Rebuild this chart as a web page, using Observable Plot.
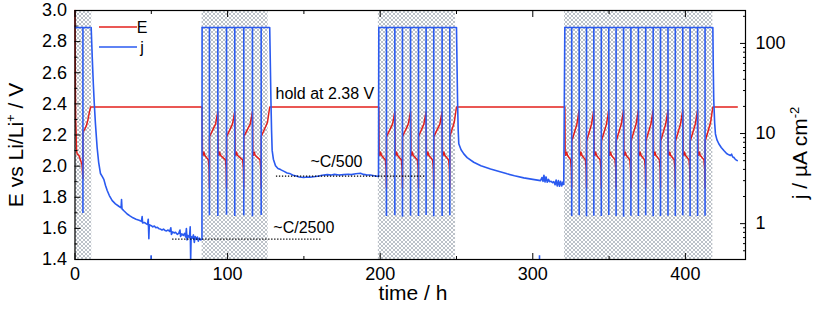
<!DOCTYPE html>
<html><head><meta charset="utf-8">
<script src="https://cdn.jsdelivr.net/npm/d3@7"></script>
<script src="https://cdn.jsdelivr.net/npm/@observablehq/plot@0.6"></script>
<style>
html,body{margin:0;padding:0;background:#fff;}
#chart{position:relative;width:813px;height:311px;}
#chart svg{position:absolute;left:0;top:0;}
</style></head><body><div id="chart"></div>
<script>
// ---------- data ----------
const xDomain = [0, 439.4];
const eDomain = [1.4, 3.0];
const jDomain = [0.4, 232];

const eTicksMajor = [1.4, 1.6, 1.8, 2.0, 2.2, 2.4, 2.6, 2.8, 3.0];
const eTicksMinor = [1.5, 1.7, 1.9, 2.1, 2.3, 2.5, 2.7, 2.9];
const xTicksMajor = [0, 100, 200, 300, 400];
const xTicksMinor = [50, 150, 250, 350];
const jTicksMajor = [1, 10, 100];
const jTicksMinor = [0.4, 0.5, 0.6, 0.7, 0.8, 0.9, 2, 3, 4, 5, 6, 7, 8, 9, 20, 30, 40, 50, 60, 70, 80, 90, 200];

// galvanostatic cycling periods (hatched)
const cycStart = [0, 83.3, 199.1, 321.0];
const cycEnd   = [10.6, 127.6, 250.0, 418.0];
const hatchStart = [0, 83.3, 198.8, 320.8];
const hatchEnd   = [11.0, 126.6, 249.4, 418.0];
const cycleJ = 150;

// current switches during cycling (|j| dips)
const spikeTimes = [5.2,
  88.1, 93.6, 99.3, 104.7, 110.6, 116.3, 122.0,
  204.1, 209.6, 214.6, 219.9, 225.1, 230.1, 235.1, 240.6, 245.6,
  325.5, 330.4, 335.2, 340.0, 344.9, 349.8, 354.6, 359.5, 364.3, 369.2, 374.0, 378.9, 383.7, 388.6, 393.4, 398.3, 403.1, 408.0, 412.9];
const spikeMins = [1.3,
  1.22, 1.2, 1.24, 1.2, 1.22, 1.19, 1.23,
  1.2, 1.22, 1.18, 1.21, 1.2, 1.23, 1.19, 1.2, 1.22,
  1.2, 1.22, 1.19, 1.21, 1.2, 1.23, 1.2, 1.18, 1.21, 1.2, 1.22, 1.19, 1.2, 1.21, 1.2, 1.22, 1.19, 1.2, 1.21];

// potential E (V) : [time h, E]
const ePoints = [
  [0,3.0],[0.25,2.5],[0.4,2.3],[0.7,2.22],[1.0,2.1],[1.5,2.075],[2.5,2.07],[3.6,2.04],[4.6,2.01],[5.2,1.92],
  [5.25,2.22],[6.5,2.24],[7.5,2.26],[8.5,2.3],[9.3,2.34],[10.2,2.38],[83.3,2.38],
  [83.5,2.09],[83.9,2.07],[84.5,2.09],[85.0,2.07],[87.4,2.04],[87.9,1.98],[88.1,1.86],[88.15,2.19],[92.1,2.27],[93.6,2.35],
  [93.8,2.09],[94.2,2.07],[94.8,2.09],[95.3,2.07],[98.6,2.04],[99.1,1.98],[99.3,1.86],[99.35,2.19],[103.2,2.27],[104.7,2.35],
  [104.9,2.09],[105.3,2.07],[105.9,2.09],[106.4,2.07],[109.9,2.04],[110.4,1.98],[110.6,1.86],[110.65,2.19],[114.8,2.27],[116.3,2.35],
  [116.5,2.09],[116.9,2.07],[117.5,2.09],[118.0,2.07],[121.3,2.04],[121.8,1.98],[122.0,1.86],[122.05,2.19],[126.1,2.28],[127.6,2.38],
  [199.1,2.38],
  [199.3,2.09],[199.7,2.07],[200.3,2.09],[200.8,2.07],[203.4,2.04],[203.9,1.98],[204.1,1.86],[204.15,2.19],[208.1,2.27],[209.6,2.35],
  [209.8,2.09],[210.2,2.07],[210.8,2.09],[211.3,2.07],[213.9,2.04],[214.4,1.98],[214.6,1.86],[214.65,2.19],[218.4,2.27],[219.9,2.35],
  [220.1,2.09],[220.5,2.07],[221.1,2.09],[221.6,2.07],[224.4,2.04],[224.9,1.98],[225.1,1.86],[225.15,2.19],[228.6,2.27],[230.1,2.35],
  [230.3,2.09],[230.7,2.07],[231.3,2.09],[231.8,2.07],[234.4,2.04],[234.9,1.98],[235.1,1.86],[235.15,2.19],[239.1,2.27],[240.6,2.35],
  [240.8,2.09],[241.2,2.07],[241.8,2.09],[242.3,2.07],[244.9,2.04],[245.4,1.98],[245.6,1.86],[245.65,2.19],[248.5,2.28],[250.0,2.38],
  [321.0,2.38],
  [321.2,2.09],[321.6,2.07],[322.2,2.09],[322.7,2.07],[324.8,2.04],[325.3,1.98],[325.5,1.86],[325.55,2.16],[328.9,2.27],[330.4,2.36],
  [330.6,2.09],[331.0,2.07],[331.6,2.09],[332.1,2.07],[334.5,2.04],[335.0,1.98],[335.2,1.86],[335.25,2.16],[338.5,2.27],[340.0,2.36],
  [340.2,2.09],[340.6,2.07],[341.2,2.09],[341.7,2.07],[344.2,2.04],[344.7,1.98],[344.9,1.86],[344.95,2.16],[348.3,2.27],[349.8,2.36],
  [350.0,2.09],[350.4,2.07],[351.0,2.09],[351.5,2.07],[353.9,2.04],[354.4,1.98],[354.6,1.86],[354.65,2.16],[358.0,2.27],[359.5,2.36],
  [359.7,2.09],[360.1,2.07],[360.7,2.09],[361.2,2.07],[363.6,2.04],[364.1,1.98],[364.3,1.86],[364.35,2.16],[367.7,2.27],[369.2,2.36],
  [369.4,2.09],[369.8,2.07],[370.4,2.09],[370.9,2.07],[373.3,2.04],[373.8,1.98],[374.0,1.86],[374.05,2.16],[377.4,2.27],[378.9,2.36],
  [379.1,2.09],[379.5,2.07],[380.1,2.09],[380.6,2.07],[383.0,2.04],[383.5,1.98],[383.7,1.86],[383.75,2.16],[387.1,2.27],[388.6,2.36],
  [388.8,2.09],[389.2,2.07],[389.8,2.09],[390.3,2.07],[392.7,2.04],[393.2,1.98],[393.4,1.86],[393.45,2.16],[396.8,2.27],[398.3,2.36],
  [398.5,2.09],[398.9,2.07],[399.5,2.09],[400.0,2.07],[402.4,2.04],[402.9,1.98],[403.1,1.86],[403.15,2.16],[406.5,2.27],[408.0,2.36],
  [408.2,2.09],[408.6,2.07],[409.2,2.09],[409.7,2.07],[412.2,2.04],[412.7,1.98],[412.9,1.86],[412.95,2.16],[416.5,2.28],[418.0,2.38],
  [434.0,2.38]
];

// current density j (µA cm-2) during potentiostatic holds : [time h, j]
const jHold1 = [
  [10.6,150],[11.3,70],[12.0,36],[12.6,22],[13.4,12.8],[14.5,7.0],[15.5,4.8],[16.7,3.6],[18.0,3.3],[18.9,3.1],
  [20.0,2.65],[21.1,2.33],[22.5,2.05],[24.4,1.8],[26.5,1.66],[28.7,1.56],[30.2,1.5],[30.5,1.85],[30.8,1.46],
  [32.2,1.38],[34.2,1.28],[36,1.22],[38,1.16],[40,1.12],[42,1.09],[43.5,1.06],[44.0,1.2],[44.3,1.02],[45.5,1.03],
  [46.5,1.0],[47.5,0.98],[48.0,1.12],[48.4,0.68],[48.7,0.97],[50,0.95],[51,0.92],[52,0.94],[53,0.9],[54,0.91],
  [55,0.88],[56,0.87],[57,0.85],[58,0.87],[59,0.84],[60,0.83],[61,0.85],[62,0.82],[62.8,0.9],[63.2,0.76],[64,0.81],
  [65,0.79],[66,0.8],[67,0.76],[68,0.78],[68.8,0.85],[69.2,0.72],[70,0.77],[71,0.74],[71.8,0.78],[72.5,0.71],
  [73,0.88],[73.4,0.66],[74,0.74],[75,0.7],[75.5,0.92],[75.8,0.4],[76.1,0.72],[77,0.69],[77.6,0.75],[78.2,0.62],
  [78.8,0.72],[79.5,0.67],[80.2,0.71],[80.8,0.64],[81.5,0.69],[82.3,0.66],[83.2,0.67],[83.3,150]
];
const jHold2 = [
  [127.6,150],[128.0,60],[128.4,23.3],[128.8,11],[129.2,6.5],[130.0,5.2],[131.4,4.4],[133,4.1],[134.7,3.98],
  [137,3.8],[139,3.65],[141.2,3.57],[143,3.45],[145,3.38],[147,3.3],[149.9,3.25],[152,3.3],[154,3.27],[157.6,3.33],
  [160,3.38],[162,3.45],[165.3,3.5],[168,3.47],[170,3.52],[173,3.46],[176.1,3.5],[179,3.54],[181,3.5],[184,3.58],
  [187.1,3.62],[189,3.52],[191,3.48],[193.6,3.46],[196,3.4],[198.9,3.33],[199.1,150]
];
const jHold3 = [
  [250.0,150],[250.4,50],[250.7,23],[251.1,11],[251.5,7.7],[253,6.6],[254.8,5.95],[257,5.4],[261.3,4.8],[266,4.4],
  [272.3,4.05],[278,3.8],[283.2,3.57],[288,3.4],[294.1,3.22],[300,3.1],[305.1,3.0],[306,3.25],[306.7,2.95],
  [307.3,3.45],[308,2.9],[308.7,3.3],[309.5,2.88],[310.3,3.1],[311,2.92],[312,2.95],[313,2.85],[313.8,2.92],
  [314.6,2.7],[315.3,3.05],[316,2.62],[316.8,3.0],[317.5,2.6],[318.2,2.95],[319,2.62],[319.7,2.9],[320.3,2.72],[321.0,150]
];
const jHold4 = [
  [418.0,150],[418.3,50],[418.6,23.3],[419.2,13],[419.7,9.9],[420.7,8.5],[421.9,7.7],[423.5,7.0],[425.2,6.47],
  [427,6.0],[428.5,5.8],[429.5,5.7],[430.3,5.9],[431,5.5],[431.7,5.45],[432.4,5.25],[433.2,5.1],[434.0,5.0]
];
const jOutlierT = [49.9, 304.4];
const jOutlierTop = [0.44, 0.44];

// reference rates (dotted)
const rateLabels = ["~C/2500", "~C/500"];
const rateJ = [0.672, 3.36];
const rateStart = [64, 132];
const rateEnd = [162, 229.7];
const rateLabelT = [130, 154.3];
const rateLabelJ = [0.903, 4.8];

const holdLabel = "hold at 2.38 V";
const holdLabelT = 131.4, holdLabelE = 2.465;

// ---------- layout ----------
const W = 813, H = 311;
const M = {top: 10, right: 68, bottom: 52, left: 74.5};
const FONT = "'Liberation Sans', Arial, Helvetica, sans-serif";
const RED = "#e3211c", BLUE = "#2a5af0";
const common = {
  width: W, height: H,
  marginTop: M.top, marginRight: M.right, marginBottom: M.bottom, marginLeft: M.left,
  style: {fontFamily: FONT, fontSize: "18px", color: "#000", background: "none", overflow: "visible"}
};

const hatch = hatchStart.map((s, i) => ({start: s, end: hatchEnd[i]}));
const cyc = cycStart.map((s, i) => ({start: s, end: cycEnd[i]}));
const rates = rateJ.map((j, i) => ({j, start: rateStart[i], end: rateEnd[i], label: rateLabels[i], lt: rateLabelT[i], lj: rateLabelJ[i]}));

const p1 = Plot.plot({
  ...common,
  x: {domain: xDomain},
  y: {domain: eDomain},
  marks: [
    Plot.rect(hatch, {x1: "start", x2: "end", fill: "url(#xhatch)"}),
    Plot.line(ePoints, {x: d => d[0], y: d => d[1], stroke: RED, strokeWidth: 1.5}),
    Plot.text([holdLabel], {x: () => holdLabelT, y: () => holdLabelE, text: d => d, textAnchor: "start", fontSize: 16, fill: "#000"}),
    Plot.axisY({ticks: eTicksMajor, tickSize: -6, tickPadding: 14, tickFormat: d => d.toFixed(1), label: null, fontSize: 18}),
    Plot.axisY({ticks: eTicksMinor, tickSize: -3, tickFormat: () => "", label: null}),
    Plot.axisX({ticks: xTicksMajor, tickSize: -6, tickPadding: 14, tickFormat: d => String(d), label: null, fontSize: 18}),
    Plot.axisX({ticks: xTicksMinor, tickSize: -3, tickFormat: () => "", label: null}),
    Plot.axisX({anchor: "top", ticks: xTicksMajor, tickSize: -6, tickFormat: () => "", label: null}),
    Plot.axisX({anchor: "top", ticks: xTicksMinor, tickSize: -3, tickFormat: () => "", label: null})
  ]
});

const p2 = Plot.plot({
  ...common,
  x: {domain: xDomain, axis: null},
  y: {type: "log", domain: jDomain},
  marks: [
    Plot.ruleY(cyc, {y: () => cycleJ, x1: "start", x2: "end", stroke: BLUE, strokeWidth: 1.6}),
    Plot.ruleX(spikeTimes, {x: d => d, y1: (d, i) => spikeMins[i], y2: () => cycleJ, stroke: BLUE, strokeWidth: 1.6}),
    Plot.line(jHold1, {x: d => d[0], y: d => d[1], stroke: BLUE, strokeWidth: 1.6}),
    Plot.line(jHold2, {x: d => d[0], y: d => d[1], stroke: BLUE, strokeWidth: 1.6}),
    Plot.line(jHold3, {x: d => d[0], y: d => d[1], stroke: BLUE, strokeWidth: 1.6}),
    Plot.line(jHold4, {x: d => d[0], y: d => d[1], stroke: BLUE, strokeWidth: 1.6}),
    Plot.ruleX(jOutlierT, {x: d => d, y1: () => jDomain[0], y2: (d, i) => jOutlierTop[i], stroke: BLUE, strokeWidth: 1.6}),
    Plot.ruleY(rates, {y: "j", x1: "start", x2: "end", stroke: "#000", strokeWidth: 1.3, strokeDasharray: "1.3,1.7"}),
    Plot.text(rates, {x: "lt", y: "lj", text: "label", textAnchor: "start", fontSize: 16, fill: "#000"}),
    Plot.axisY({anchor: "right", ticks: jTicksMajor, tickSize: -6, tickPadding: 16, tickFormat: d => String(d), label: null, fontSize: 18}),
    Plot.axisY({anchor: "right", ticks: jTicksMinor, tickSize: -3, tickFormat: () => "", label: null}),
    Plot.frame({stroke: "#000", strokeWidth: 1.2})
  ]
});

// hatch pattern
const s1 = d3.select(p1);
const pat = s1.insert("defs", ":first-child").append("pattern")
  .attr("id", "xhatch").attr("patternUnits", "userSpaceOnUse").attr("width", 4).attr("height", 4);
pat.append("rect").attr("width", 4).attr("height", 4).attr("fill", "#fff");
pat.append("path").attr("d", "M0,0L4,4M4,0L0,4").attr("stroke", "#97a1ac").attr("stroke-width", 0.65);

// legend and axis titles
const s2 = d3.select(p2);
const g = s2.append("g").attr("font-family", FONT);
[[RED, "E", 27], [BLUE, "j", 47]].forEach(([c, t, y]) => {
  g.append("line").attr("x1", 99).attr("x2", 137).attr("y1", y).attr("y2", y).attr("stroke", c).attr("stroke-width", 1.6);
  g.append("text").attr("x", 142).attr("y", y).attr("dy", "0.36em").attr("font-size", 16).attr("fill", "#000").text(t);
});
const lt = g.append("text").attr("transform", "translate(23,145) rotate(-90)").attr("text-anchor", "middle").attr("font-size", 21).attr("fill", "#000");
lt.append("tspan").text("E vs Li/Li");
lt.append("tspan").attr("dy", -8).attr("font-size", 13).text("+");
lt.append("tspan").attr("dy", 8).text(" / V");
const rt = g.append("text").attr("transform", "translate(807,153) rotate(-90)").attr("text-anchor", "middle").attr("font-size", 21).attr("fill", "#000");
rt.append("tspan").text("j / \u00b5A cm");
rt.append("tspan").attr("dy", -8).attr("font-size", 13).text("-2");
g.append("text").attr("x", 413).attr("y", 300).attr("text-anchor", "middle").attr("font-size", 21).attr("fill", "#000").text("time / h");

const chart = document.getElementById("chart");
chart.appendChild(p1);
chart.appendChild(p2);
</script></body></html>
